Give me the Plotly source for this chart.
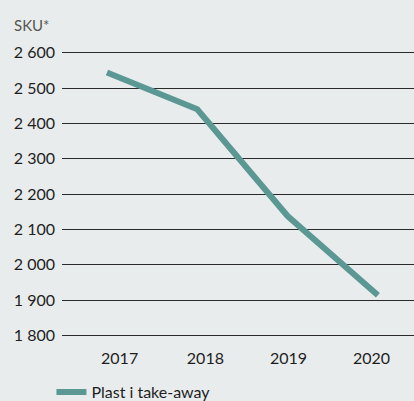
import plotly.graph_objects as go

# Number of SKUs with plastic in take-away, per year
years = ["2017", "2018", "2019", "2020"]
sku_counts = [2544, 2440, 2138, 1914]
series_name = "Plast i take-away"
y_ticks = [1800, 1900, 2000, 2100, 2200, 2300, 2400, 2500, 2600]

x_pos = list(range(len(years)))
label_pos = [0.14, 1.09, 2.01, 2.93]

bg = "#e8ecec"
ink = "#1e1e1e"
font_family = "Lato, 'Open Sans', sans-serif"

fig = go.Figure()
fig.add_trace(go.Scatter(
    x=x_pos,
    y=sku_counts,
    mode="lines",
    name=series_name,
    line=dict(color="#5b9894", width=6, shape="linear"),
    showlegend=True,
))

fig.update_layout(
    width=414,
    height=401,
    paper_bgcolor=bg,
    plot_bgcolor=bg,
    separators=", ",
    margin=dict(l=62, r=0, t=35, b=64),
    font=dict(family=font_family, size=16, color=ink),
    xaxis=dict(
        range=[-0.498, 3.4],
        tickmode="array",
        tickvals=label_pos,
        ticktext=years,
        showgrid=False,
        zeroline=False,
        showline=False,
        ticks="",
        ticklabelstandoff=10,
        tickfont=dict(size=16, color=ink),
        fixedrange=True,
    ),
    yaxis=dict(
        range=[1796, 2650],
        tickmode="array",
        tickvals=y_ticks,
        tickformat=",d",
        showgrid=True,
        gridcolor="#2a2a2a",
        gridwidth=1,
        zeroline=False,
        showline=False,
        ticks="",
        ticklabelstandoff=6,
        tickfont=dict(size=16, color=ink),
        fixedrange=True,
    ),
    legend=dict(
        orientation="h",
        x=-0.03,
        xanchor="left",
        y=0.022,
        yref="container",
        yanchor="middle",
        bgcolor="rgba(0,0,0,0)",
        font=dict(size=16, color=ink),
    ),
    annotations=[dict(
        text="SKU*",
        xref="paper", yref="paper",
        x=0, y=1,
        xshift=-50, yshift=-1,
        xanchor="left", yanchor="bottom",
        showarrow=False,
        font=dict(size=15, color="#555555"),
    )],
)

fig.write_html("out.html")
